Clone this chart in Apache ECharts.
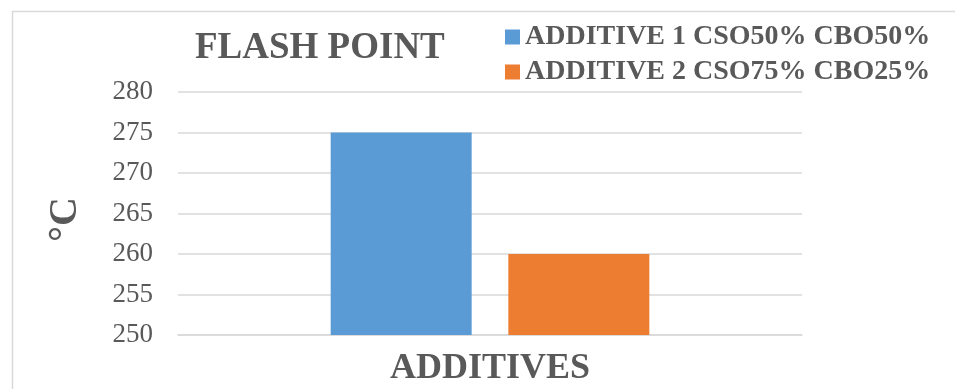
<!DOCTYPE html>
<html>
<head>
<meta charset="utf-8">
<script src="https://cdn.jsdelivr.net/npm/echarts@6/dist/echarts.min.js"></script>
<style>
html,body{margin:0;padding:0;background:#fff;}
#chart{width:955px;height:389px;}
</style>
</head>
<body>
<div id="chart"></div>
<script>
const categories = [''];
const seriesNames = ['ADDITIVE 1 CSO50% CBO50%', 'ADDITIVE 2 CSO75% CBO25%'];
const additive1 = [275];
const additive2 = [260];
const yMin = 250, yMax = 280, yStep = 5;

const FONT = '"Liberation Serif", "Times New Roman", serif';
const TXT = '#595959';

const chart = echarts.init(document.getElementById('chart'), null, {renderer: 'canvas'});
chart.setOption({
  backgroundColor: '#fff',
  animation: false,
  graphic: [{
    type: 'rect', left: 10, top: 9,
    shape: {width: 1200, height: 600},
    style: {fill: 'none', stroke: '#d9d9d9', lineWidth: 1.5},
    silent: true
  }],
  title: {
    text: 'FLASH POINT',
    left: 195, top: 30, padding: 0,
    textStyle: {fontFamily: FONT, fontSize: 37, fontWeight: 'bold', color: TXT}
  },
  legend: {
    orient: 'vertical',
    left: 505, top: 22, padding: 0,
    itemWidth: 15, itemHeight: 15, itemGap: 5,
    icon: 'rect',
    data: seriesNames,
    textStyle: {fontFamily: FONT, fontSize: 28, fontWeight: 'bold', color: TXT, lineHeight: 30}
  },
  grid: {left: 178, right: 153, top: 92, bottom: 54, containLabel: false, outerBoundsMode: 'none'},
  xAxis: {
    type: 'category',
    data: categories,
    name: 'ADDITIVES',
    nameLocation: 'middle',
    nameGap: 16,
    nameTextStyle: {fontFamily: FONT, fontSize: 36, fontWeight: 'bold', color: TXT},
    axisLine: {show: true, lineStyle: {color: '#d9d9d9', width: 1.5}},
    axisTick: {show: false},
    axisLabel: {show: false}
  },
  yAxis: {
    type: 'value',
    min: yMin, max: yMax, interval: yStep,
    name: '°C',
    nameLocation: 'middle',
    nameRotate: 90,
    nameGap: 92,
    nameTextStyle: {fontFamily: FONT, fontSize: 40, fontWeight: 'bold', color: TXT, padding: [0, 12, 0, 0]},
    axisLine: {show: false},
    axisTick: {show: false},
    axisLabel: {margin: 25, fontFamily: FONT, fontSize: 27, color: TXT},
    splitLine: {lineStyle: {color: '#d9d9d9', width: 1.5}}
  },
  series: [
    {name: seriesNames[0], type: 'bar', data: additive1, barWidth: 141, barGap: '26%',
     itemStyle: {color: '#5B9BD5'}},
    {name: seriesNames[1], type: 'bar', data: additive2, barWidth: 141, barGap: '26%',
     itemStyle: {color: '#ED7D31'}}
  ]
});
</script>
</body>
</html>
